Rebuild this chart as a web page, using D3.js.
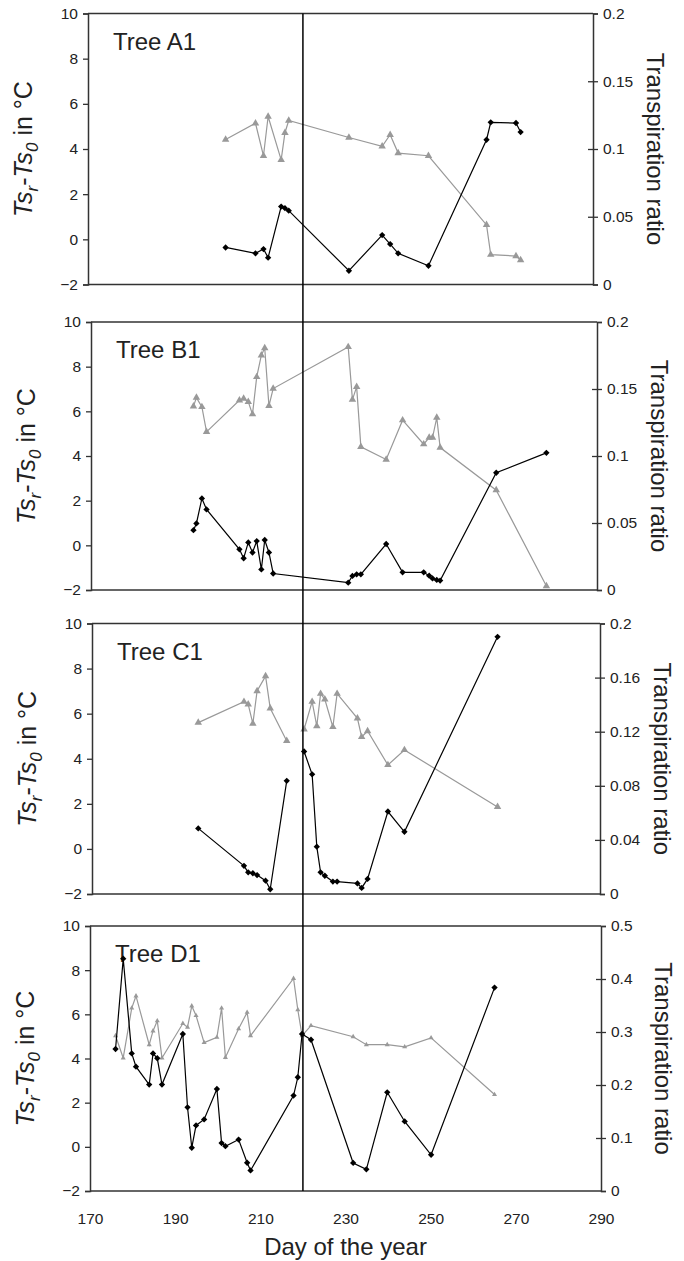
<!DOCTYPE html>
<html><head><meta charset="utf-8">
<script src="https://cdn.jsdelivr.net/npm/d3@7"></script>
<style>body{margin:0;background:#fff} text{font-family:Arial,"Liberation Sans",sans-serif;fill:#222}</style>
</head><body><svg id="c" width="684" height="1261"></svg>
<script>
// ---------- data ----------
const treeNames = ["Tree A1", "Tree B1", "Tree C1", "Tree D1"];
const xTicks = [170, 190, 210, 230, 250, 270, 290];
const leftTicks = [-2, 0, 2, 4, 6, 8, 10];
const rightTicksA = [0, 0.05, 0.1, 0.15, 0.2];
const rightTicksB = [0, 0.05, 0.1, 0.15, 0.2];
const rightTicksC = [0, 0.04, 0.08, 0.12, 0.16, 0.2];
const rightTicksD = [0, 0.1, 0.2, 0.3, 0.4, 0.5];
const rightMax = [0.2, 0.2, 0.2, 0.5];
const refDay = 220;

const daysA  = [202.7, 209.8, 211.7, 212.8, 215.9, 216.8, 217.7, 232.0, 239.9, 241.8, 243.7, 250.9, 264.7, 265.7, 271.7, 272.8];
const tempA  = [-0.36, -0.62, -0.43, -0.81, 1.45, 1.38, 1.27, -1.39, 0.19, -0.21, -0.62, -1.17, 4.41, 5.18, 5.15, 4.75];
const ratioA = [0.107, 0.119, 0.095, 0.124, 0.092, 0.112, 0.121, 0.1085, 0.102, 0.1105, 0.097, 0.095, 0.044, 0.022, 0.021, 0.018];
const segA   = [0,0,0,0,0,0,0,0,0,0,0,0,0,0,0,0];

const daysB  = [194.3, 195.0, 196.3, 197.4, 205.2, 206.2, 207.3, 208.3, 209.3, 210.4, 211.2, 212.2, 213.2, 231.0, 232.0, 233.0, 234.0, 240.0, 243.9, 248.9, 250.2, 251.0, 252.0, 252.8, 266.1, 278.0];
const tempB  = [0.68, 0.98, 2.10, 1.61, -0.18, -0.58, 0.13, -0.32, 0.19, -1.08, 0.24, -0.32, -1.26, -1.67, -1.37, -1.30, -1.30, 0.06, -1.21, -1.21, -1.36, -1.48, -1.55, -1.58, 3.25, 4.14];
const ratioB = [0.137, 0.1436, 0.1366, 0.118, 0.1416, 0.1429, 0.1404, 0.1312, 0.159, 0.1752, 0.1806, 0.1374, 0.1503, 0.1814, 0.1421, 0.1516, 0.1068, 0.0974, 0.1267, 0.1088, 0.1138, 0.1138, 0.1287, 0.1063, 0.0745, 0.003];
const segB   = [0,0,0,0,0,0,0,0,0,0,0,0,0,0,0,0,0,0,0,0,0,0,0,0,0,0];

const daysC  = [195.1, 205.9, 206.9, 208.0, 209.0, 211.0, 212.1, 216.0, 220.1, 222.0, 223.1, 224.0, 225.0, 226.9, 227.9, 232.7, 233.7, 235.1, 239.9, 243.8, 265.8];
const tempC  = [0.91, -0.75, -1.04, -1.08, -1.16, -1.41, -1.79, 3.02, 4.32, 3.31, 0.1, -1.04, -1.19, -1.45, -1.45, -1.53, -1.73, -1.33, 1.66, 0.76, 9.41];
const ratioC = [0.1267, 0.1422, 0.1402, 0.126, 0.1501, 0.1611, 0.1373, 0.1132, 0.1218, 0.1422, 0.1242, 0.1481, 0.1439, 0.1235, 0.1481, 0.1299, 0.1161, 0.1205, 0.0954, 0.1065, 0.0644];
const segC   = [0,0,0,0,0,0,0,0,1,1,1,1,1,1,1,1,1,1,1,1,1];

const daysD  = [176.0, 177.8, 179.8, 180.8, 183.9, 184.8, 185.8, 186.9, 191.8, 192.9, 193.9, 194.9, 196.8, 199.8, 200.9, 201.8, 204.9, 206.9, 207.7, 217.8, 218.8, 219.8, 221.9, 231.8, 234.9, 239.8, 243.9, 250.1, 265.0];
const tempD  = [4.43, 8.52, 4.23, 3.63, 2.82, 4.23, 4.01, 2.82, 5.11, 1.79, -0.04, 0.97, 1.24, 2.62, 0.17, 0.03, 0.33, -0.72, -1.07, 2.32, 3.15, 5.11, 4.85, -0.73, -1.02, 2.47, 1.15, -0.36, 7.21];
const ratioD = [0.293, 0.251, 0.345, 0.368, 0.276, 0.302, 0.321, 0.251, 0.316, 0.309, 0.349, 0.331, 0.280, 0.290, 0.345, 0.252, 0.306, 0.337, 0.293, 0.401, 0.342, 0.293, 0.312, 0.291, 0.276, 0.276, 0.272, 0.289, 0.182];
const segD   = [0,0,0,0,0,0,0,0,0,0,0,0,0,0,0,0,0,0,0,0,0,0,0,0,0,0,0,0,0];

// ---------- layout ----------
const panels = [
  {top: 13.5, bottom: 284.5, left: 88, right: 593, days: daysA, temp: tempA, ratio: ratioA, seg: segA, rt: rightTicksA, tri: 24},
  {top: 322, bottom: 590, left: 91, right: 597, days: daysB, temp: tempB, ratio: ratioB, seg: segB, rt: rightTicksB, tri: 24},
  {top: 623.5, bottom: 894, left: 92, right: 600, days: daysC, temp: tempC, ratio: ratioC, seg: segC, rt: rightTicksC, tri: 24},
  {top: 926, bottom: 1191, left: 90, right: 601, days: daysD, temp: tempD, ratio: ratioD, seg: segD, rt: rightTicksD, tri: 11}
];
const axisColor = "#333";
const grayColor = "#999";

const svg = d3.select("#c");
const fmt = v => String(+v.toFixed(2));

panels.forEach((p, i) => {
  const x = d3.scaleLinear().domain([170, 290]).range([p.left, p.right]);
  const yL = d3.scaleLinear().domain([-2, 10]).range([p.bottom, p.top]);
  const yR = d3.scaleLinear().domain([0, rightMax[i]]).range([p.bottom, p.top]);
  const g = svg.append("g");

  g.append("line").attr("x1", p.left).attr("x2", p.right).attr("y1", p.top).attr("y2", p.top)
    .attr("stroke", axisColor).attr("stroke-width", 1.5);
  g.append("line").attr("x1", p.left).attr("x2", p.right).attr("y1", p.bottom).attr("y2", p.bottom)
    .attr("stroke", axisColor).attr("stroke-width", 1.5);

  const la = g.append("g").attr("transform", `translate(${p.left},0)`)
    .call(d3.axisLeft(yL).tickValues(leftTicks).tickSize(5).tickPadding(5).tickFormat(d3.format("d")));
  la.select(".domain").attr("stroke", axisColor).attr("stroke-width", 1.5);
  la.selectAll(".tick line").attr("stroke", axisColor).attr("stroke-width", 1.3);
  la.selectAll("text").attr("font-size", 15.5).attr("fill", "#222").attr("font-family", "Arial, 'Liberation Sans', sans-serif");

  const ra = g.append("g").attr("transform", `translate(${p.right},0)`)
    .call(d3.axisRight(yR).tickValues(p.rt).tickSize(5).tickPadding(5).tickFormat(fmt));
  ra.select(".domain").attr("stroke", axisColor).attr("stroke-width", 1.5);
  ra.selectAll(".tick line").attr("stroke", axisColor).attr("stroke-width", 1.3).attr("x1", d => (d > 0 && d < rightMax[i]) ? -5 : 0);
  ra.selectAll("text").attr("font-size", 15.5).attr("fill", "#222").attr("font-family", "Arial, 'Liberation Sans', sans-serif");

  const cy = (p.top + p.bottom) / 2;
  const lt = g.append("text").attr("transform", `translate(${p.left - 56},${cy}) rotate(-90)`)
    .attr("text-anchor", "middle").attr("font-size", 25);
  lt.append("tspan").attr("font-style", "italic").text("Ts");
  lt.append("tspan").attr("font-style", "italic").attr("font-size", 17).attr("dy", 6).text("r");
  lt.append("tspan").attr("dy", -6).text("-");
  lt.append("tspan").attr("font-style", "italic").text("Ts");
  lt.append("tspan").attr("font-style", "italic").attr("font-size", 17).attr("dy", 6).text("0");
  lt.append("tspan").attr("dy", -6).text(" in °C");

  g.append("text").attr("transform", `translate(${p.right + 62},${cy}) rotate(90)`)
    .attr("text-anchor", "middle").attr("dy", "0.35em").attr("font-size", 24).text("Transpiration ratio");

  g.append("text").attr("x", p.left + 25).attr("y", p.top + 36).attr("font-size", 24).text(treeNames[i]);

  const pts = p.days.map((d, k) => ({d, t: p.temp[k], r: p.ratio[k], s: p.seg[k]}));
  const segs = d3.groups(pts, v => v.s).map(e => e[1]);
  const lineR = d3.line().x(v => x(v.d)).y(v => yR(v.r));
  const lineT = d3.line().x(v => x(v.d)).y(v => yL(v.t));
  segs.forEach(s => {
    g.append("path").attr("d", lineR(s)).attr("fill", "none").attr("stroke", grayColor).attr("stroke-width", 1.2);
  });
  g.selectAll(".tri").data(pts).enter().append("path")
    .attr("d", d3.symbol(d3.symbolTriangle, p.tri))
    .attr("transform", v => `translate(${x(v.d)},${yR(v.r)})`).attr("fill", grayColor);
  segs.forEach(s => {
    g.append("path").attr("d", lineT(s)).attr("fill", "none").attr("stroke", "#000").attr("stroke-width", 1.2);
  });
  g.selectAll(".dia").data(pts).enter().append("path")
    .attr("d", d3.symbol(d3.symbolSquare, 20))
    .attr("transform", v => `translate(${x(v.d)},${yL(v.t)}) rotate(45)`).attr("fill", "#000");

  if (i === panels.length - 1) {
    const xa = g.append("g").attr("transform", `translate(0,${p.bottom})`)
      .call(d3.axisBottom(x).tickValues(xTicks).tickSize(0).tickPadding(22).tickFormat(d3.format("d")));
    xa.select(".domain").remove();
    xa.selectAll("text").attr("font-size", 15.5).attr("fill", "#222").attr("font-family", "Arial, 'Liberation Sans', sans-serif");
    g.append("text").attr("x", (p.left + p.right) / 2).attr("y", p.bottom + 64)
      .attr("text-anchor", "middle").attr("font-size", 24).text("Day of the year");
  }
});

const pd = panels[panels.length - 1];
const xRef = d3.scaleLinear().domain([170, 290]).range([pd.left, pd.right]);
svg.append("line").attr("x1", xRef(refDay)).attr("x2", xRef(refDay))
  .attr("y1", panels[0].top).attr("y2", pd.bottom).attr("stroke", "#000").attr("stroke-width", 1.5);
</script>
</body></html>
